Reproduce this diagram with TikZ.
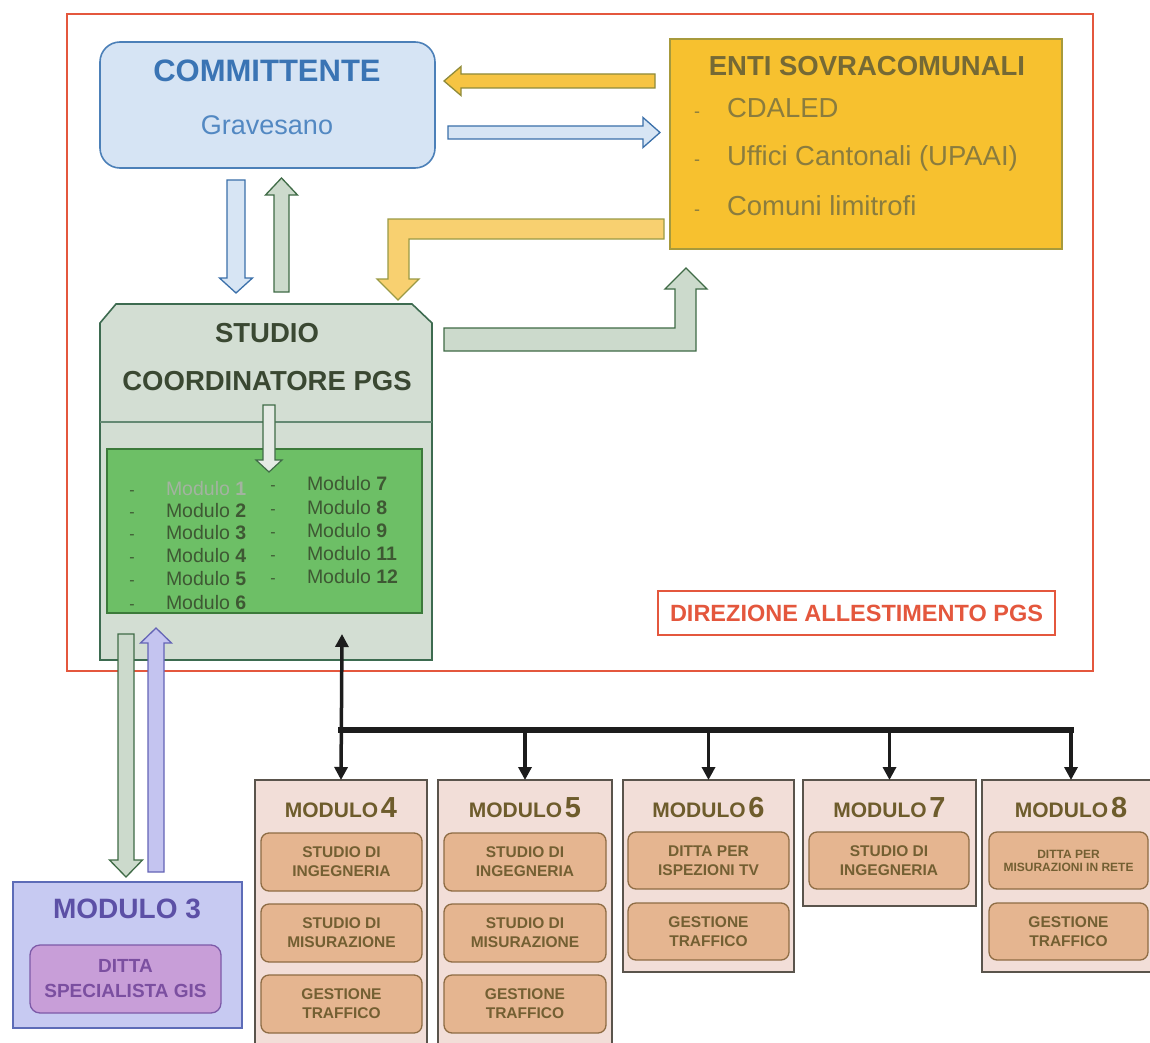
\documentclass[tikz,border=0pt]{standalone}
\usepackage{fontspec}
\setmainfont{Liberation Sans}
\usetikzlibrary{calc,arrows.meta}
\definecolor{redline}{HTML}{E4573D}
\definecolor{cfill}{HTML}{D6E4F4}
\definecolor{cdraw}{HTML}{4C80B8}
\definecolor{ctitle}{HTML}{3A74B4}
\definecolor{csub}{HTML}{5288C2}
\definecolor{efill}{HTML}{F7C12F}
\definecolor{edraw}{HTML}{A79A3C}
\definecolor{etext}{HTML}{8A7C3E}
\definecolor{sfill}{HTML}{D3DED3}
\definecolor{sdraw}{HTML}{3D6B50}
\definecolor{stext}{HTML}{3A4832}
\definecolor{gfill}{HTML}{6DBF66}
\definecolor{gdraw}{HTML}{3C7A3A}
\definecolor{gtext}{HTML}{3E5833}
\definecolor{gfaint}{HTML}{A3B3A0}
\definecolor{mfill}{HTML}{F2DED8}
\definecolor{mdraw}{HTML}{5A544C}
\definecolor{mtitle}{HTML}{6E5C2C}
\definecolor{ifill}{HTML}{E5B590}
\definecolor{idraw}{HTML}{8E6C44}
\definecolor{itext}{HTML}{735F32}
\definecolor{pfill}{HTML}{C7CAF2}
\definecolor{pdraw}{HTML}{5D6CB8}
\definecolor{ptitle}{HTML}{5C50A6}
\definecolor{qfill}{HTML}{C89ED8}
\definecolor{qdraw}{HTML}{7D5AA8}
\definecolor{qtext}{HTML}{7B4FA0}
\definecolor{ayfill}{HTML}{F6C443}
\definecolor{aydraw}{HTML}{8F8B3A}
\definecolor{abfill}{HTML}{D7E5F4}
\definecolor{abdraw}{HTML}{3B70AA}
\definecolor{agfill}{HTML}{CCDACC}
\definecolor{agdraw}{HTML}{3F6B46}
\definecolor{apfill}{HTML}{C4C4F0}
\definecolor{apdraw}{HTML}{6464B6}
\definecolor{alyfill}{HTML}{F8D070}
\definecolor{alydraw}{HTML}{9A9A45}
\definecolor{busblack}{HTML}{1C1C1C}
% block arrow: #1 style, #2 start, #3 tip, #4 shaft half width, #5 head half width, #6 head length
\newcommand\barrow[6]{%
  \coordinate (bac) at ($(#3)!#6!(#2)$);
  \draw[#1] ($(#2)!#4!90:(#3)$) -- ($(bac)!#4!90:(#3)$) -- ($(bac)!#5!90:(#3)$)
    -- (#3) -- ($(bac)!#5!-90:(#3)$) -- ($(bac)!#4!-90:(#3)$) -- ($(#2)!#4!-90:(#3)$) -- cycle;}
\begin{document}
\begin{tikzpicture}[x=1pt,y=-1pt,
  every node/.style={inner sep=0pt,outer sep=0pt},
  frame/.style={anchor=north west,inner sep=0pt,outer sep=0pt},
  modbox/.style={frame,draw=mdraw,fill=mfill,line width=1.6pt},
  inbox/.style={frame,draw=idraw,fill=ifill,line width=1.3pt,rounded corners=8pt,
    align=center,text=itext,font=\bfseries\fontsize{15.5}{19}\selectfont},
  modtitle/.style={text=mtitle,font=\bfseries},
  busline/.style={draw=busblack,line width=5.5pt},
  drop/.style={draw=busblack,line width=3.5pt},
  tip/.style={-{Triangle[length=13pt,width=13pt]}},
  arrY/.style={fill=ayfill,draw=aydraw,line width=1.3pt},
  arrB/.style={fill=abfill,draw=abdraw,line width=1.3pt},
  arrG/.style={fill=agfill,draw=agdraw,line width=1.3pt},
  arrP/.style={fill=apfill,draw=apdraw,line width=1.3pt},
  arrL/.style={fill=alyfill,draw=alydraw,line width=1.3pt},
  listtxt/.style={anchor=base west,text=gtext,font=\fontsize{19.5}{20}\selectfont},
  dashtxt/.style={anchor=base,text=gtext,font=\fontsize{16}{16}\selectfont},
  entitxt/.style={anchor=base west,text=etext,font=\fontsize{27.5}{28}\selectfont},
  entidash/.style={anchor=base,text=etext,font=\fontsize{18}{18}\selectfont},
]
\useasboundingbox (0,0) rectangle (1150,1043);
\fill[white] (0,0) rectangle (1150,1043);

% outer frame
\node[frame,draw=redline,line width=2.2pt,minimum width=1026pt,minimum height=657pt] (dir) at (67,14) {};

% COMMITTENTE
\node[frame,draw=cdraw,fill=cfill,line width=1.6pt,rounded corners=20pt,minimum width=335pt,minimum height=126pt] (comm) at (100,42) {};
\node[text=ctitle,font=\bfseries\fontsize{31}{31}\selectfont] (commt) at (267,71) {COMMITTENTE};
\node[text=csub,font=\fontsize{27}{27}\selectfont] (comms) at (267,125) {Gravesano};

% ENTI SOVRACOMUNALI
\node[frame,draw=edraw,fill=efill,line width=1.5pt,minimum width=392pt,minimum height=210pt] (enti) at (670,39) {};
\node[text=etext!85!black,font=\bfseries\fontsize{27.5}{28}\selectfont] (entit) at (867,66) {ENTI SOVRACOMUNALI};
\foreach \i/\yy/\t in {1/118/CDALED, 2/166/Uffici Cantonali (UPAAI), 3/215/Comuni limitrofi} {
  \node[entidash] (entid\i) at (697,\yy) {-};
  \node[entitxt] (entil\i) at (727,\yy) {\t};
}

% STUDIO COORDINATORE PGS
\node[frame,minimum width=332pt,minimum height=356pt] (studio) at (100,304) {};
\draw[fill=sfill,draw=sdraw,line width=1.6pt]
  (studio.south west) -- ([yshift=-19pt]studio.north west) -- ([xshift=16pt]studio.north west)
  -- ([xshift=-20pt]studio.north east) -- ([yshift=-19pt]studio.north east) -- (studio.south east) -- cycle;
\coordinate (divL) at (100,422);
\coordinate (divR) at (432,422);
\draw[draw=sdraw!80,line width=1.3pt] (divL) -- (divR);
\node[text=stext,font=\bfseries\fontsize{27.5}{28}\selectfont] (studt1) at (267,333) {STUDIO};
\node[text=stext,font=\bfseries\fontsize{27.5}{28}\selectfont] (studt2) at (267,381) {COORDINATORE PGS};
\node[frame,draw=gdraw,fill=gfill,line width=1.3pt,minimum width=315pt,minimum height=164pt] (mods) at (107,449) {};
\coordinate (sa1) at (269,405);
\coordinate (sa2) at (269,472);
\barrow{fill=sfill!60!white,draw=agdraw,line width=1.2pt}{sa1}{sa2}{6pt}{13pt}{12pt}
% module list (baselines)
\node[dashtxt] (ld1) at (132,495) {-};
\node[listtxt,text=gfaint] (lm1) at (166,495) {Modulo \textbf{1}};
\foreach \i/\yy in {2/517,3/539,4/562,5/585,6/609} {
  \node[dashtxt] (ld\i) at (132,\yy) {-};
  \node[listtxt] (lm\i) at (166,\yy) {Modulo \textbf{\i}};
}
\foreach \i/\yy in {7/490,8/514,9/537,11/560,12/583} {
  \node[dashtxt] (rd\i) at (273,\yy) {-};
  \node[listtxt] (rm\i) at (307,\yy) {Modulo \textbf{\i}};
}

% DIREZIONE label
\node[frame,draw=redline,fill=white,line width=1.8pt,minimum width=397pt,minimum height=44pt] (dirl) at (658,591) {};
\node[text=redline,font=\bfseries\fontsize{23.5}{24}\selectfont] (dirlt) at (dirl.center) {DIREZIONE ALLESTIMENTO PGS};

% arrows committente <-> enti
\coordinate (y1) at (655,81);
\coordinate (y2) at (444,81);
\barrow{arrY}{y1}{y2}{7pt}{14.5pt}{17pt}
\coordinate (b1) at (448,132.5);
\coordinate (b2) at (660,132.5);
\barrow{arrB}{b1}{b2}{6.5pt}{15pt}{17pt}
% arrows committente <-> studio
\coordinate (cb1) at (236,180);
\coordinate (cb2) at (236,293);
\barrow{arrB}{cb1}{cb2}{9pt}{16.5pt}{15pt}
\coordinate (cg1) at (281.5,292);
\coordinate (cg2) at (281.5,178);
\barrow{arrG}{cg1}{cg2}{7.5pt}{16pt}{17pt}
% L arrows
\draw[arrL] (664,219) -- (388,219) -- (388,279) -- (377,279) -- (398,300) -- (419,279)
  -- (409,279) -- (409,239) -- (664,239) -- cycle;
\draw[arrG] (444,328) -- (675,328) -- (675,289) -- (665,289) -- (686,268) -- (707,289)
  -- (696,289) -- (696,351) -- (444,351) -- cycle;

% MODULO 3
\node[frame,draw=pdraw,fill=pfill,line width=1.6pt,minimum width=229pt,minimum height=146pt] (m3) at (13,882) {};
\node[text=ptitle,font=\bfseries\fontsize{28}{28}\selectfont] (m3t) at (127,909) {MODULO 3};
\node[frame,draw=qdraw,fill=qfill,line width=1.3pt,rounded corners=10pt,minimum width=191pt,minimum height=68pt,
  align=center,text=qtext,font=\bfseries\fontsize{19}{25}\selectfont] (m3a) at (30,945) {DITTA\\SPECIALISTA GIS};
\coordinate (g1) at (126,634);
\coordinate (g2) at (126,877);
\barrow{arrG}{g1}{g2}{8pt}{16.5pt}{17pt}
\coordinate (p1) at (156,872);
\coordinate (p2) at (156,628);
\barrow{arrP}{p1}{p2}{8pt}{15.5pt}{15pt}

% module boxes
\foreach \n/\x/\w/\h in {4/255/172/268, 5/438/174/268, 6/623/171/192, 7/803/173/126, 8/982/178/192} {
  \node[modbox,minimum width=\w pt,minimum height=\h pt] (m\n) at (\x,780) {};
  \node[modtitle] (m\n-t) at ($(m\n.north)+(0,28)$)
    {{\fontsize{21}{21}\selectfont MODULO} {\fontsize{29}{29}\selectfont\n}};
}
\node[inbox,minimum width=161pt,minimum height=58pt] (m4a) at (261,833) {STUDIO DI\\INGEGNERIA};
\node[inbox,minimum width=161pt,minimum height=58pt] (m4b) at (261,904) {STUDIO DI\\MISURAZIONE};
\node[inbox,minimum width=161pt,minimum height=58pt] (m4c) at (261,975) {GESTIONE\\TRAFFICO};
\node[inbox,minimum width=162pt,minimum height=58pt] (m5a) at (444,833) {STUDIO DI\\INGEGNERIA};
\node[inbox,minimum width=162pt,minimum height=58pt] (m5b) at (444,904) {STUDIO DI\\MISURAZIONE};
\node[inbox,minimum width=162pt,minimum height=58pt] (m5c) at (444,975) {GESTIONE\\TRAFFICO};
\node[inbox,minimum width=161pt,minimum height=57pt] (m6a) at (628,832) {DITTA PER\\ISPEZIONI TV};
\node[inbox,minimum width=161pt,minimum height=57pt] (m6b) at (628,903) {GESTIONE\\TRAFFICO};
\node[inbox,minimum width=160pt,minimum height=57pt] (m7a) at (809,832) {STUDIO DI\\INGEGNERIA};
\node[inbox,minimum width=159pt,minimum height=57pt,font=\bfseries\fontsize{12}{13}\selectfont] (m8a) at (989,832) {DITTA PER\\MISURAZIONI IN RETE};
\node[inbox,minimum width=159pt,minimum height=57pt] (m8b) at (989,903) {GESTIONE\\TRAFFICO};

% black connectors
\coordinate (bus) at (342,730);
\coordinate (stip) at (342,634);
\draw[busline,line cap=rect] (m4.north |- bus) -- (m8.north |- bus);
\draw[drop,{Triangle[length=13pt,width=13pt]}-{Triangle[length=13pt,width=13pt]}] (stip) -- (m4.north);
\foreach \n in {5,6,7,8} {
  \draw[drop,tip] (m\n.north |- bus) -- (m\n.north);
}
\end{tikzpicture}
\end{document}
